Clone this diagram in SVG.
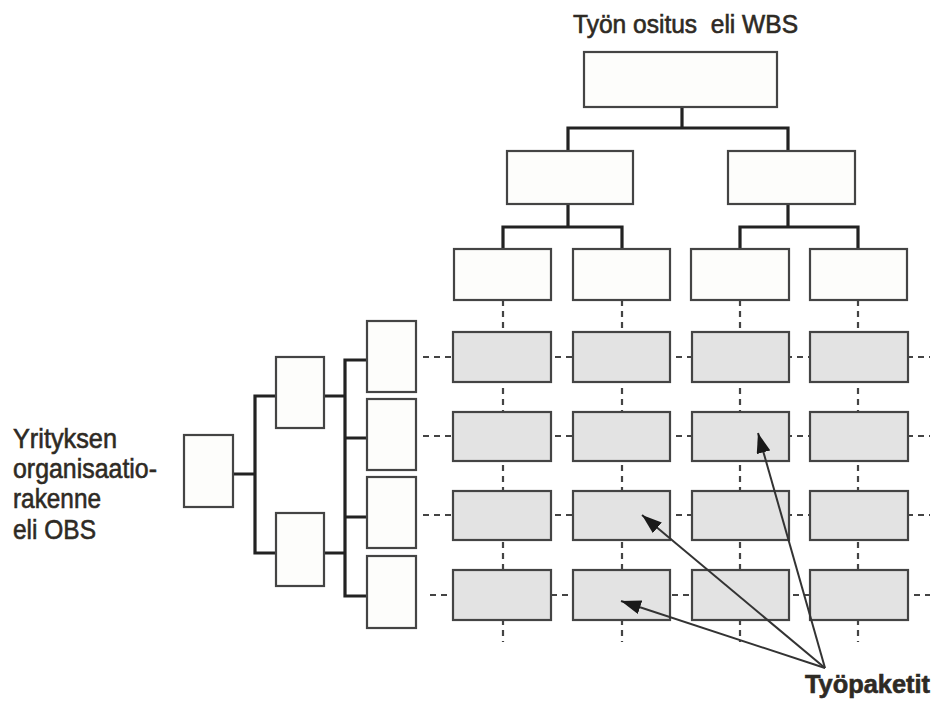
<svg xmlns="http://www.w3.org/2000/svg" width="933" height="704" viewBox="0 0 933 704">
<style>
.box{fill:#fdfdfb;stroke:#444;stroke-width:2.2}
.wp{fill:#e3e3e3;stroke:#444;stroke-width:2.2}
.tree{fill:none;stroke:#222;stroke-width:3.2}
.dash{fill:none;stroke:#444;stroke-width:2.2;stroke-dasharray:6 5}
.arr{fill:none;stroke:#333;stroke-width:2}
.lbl{font-family:"Liberation Sans",Arial,sans-serif;fill:#2e2a24;stroke:#2e2a24;stroke-width:0.6}
</style>
<defs>
<marker id="ah" viewBox="0 0 20 14" refX="20" refY="7" markerWidth="20" markerHeight="14" markerUnits="userSpaceOnUse" orient="auto">
<path d="M0,0 L20,7 L0,14 z" fill="#1a1a1a"/>
</marker>
</defs>
<rect width="933" height="704" fill="#fff"/>

<g id="grid-dashes">
<line class="dash" x1="503" y1="300" x2="503" y2="642"/>
<line class="dash" x1="622" y1="300" x2="622" y2="642"/>
<line class="dash" x1="740" y1="300" x2="740" y2="642"/>
<line class="dash" x1="858" y1="300" x2="858" y2="642"/>
<line class="dash" x1="423" y1="357" x2="930" y2="357"/>
<line class="dash" x1="423" y1="436" x2="930" y2="436"/>
<line class="dash" x1="423" y1="515" x2="930" y2="515"/>
<line class="dash" x1="430" y1="595" x2="930" y2="595"/>
</g>

<g id="connectors">
<path class="tree" d="M682,107 V128 M568,150 V128 H788 V150"/>
<path class="tree" d="M568,204 V227 M503,249 V227 H622 V249"/>
<path class="tree" d="M788,204 V227 M740,249 V227 H858 V249"/>
<path class="tree" d="M233,474 H255 M276,396 H255 V553 H276"/>
<path class="tree" d="M324,396 H345 M324,553 H345 M367,360 H345 V596 H367 M345,438 H367 M345,517 H367"/>
</g>

<g id="wbs-root"><rect class="box" x="584" y="52" width="193" height="55"/></g>
<g id="wbs-1"><rect class="box" x="507" y="151" width="126" height="53"/></g>
<g id="wbs-2"><rect class="box" x="728" y="151" width="127" height="53"/></g>
<g id="wbs-1-1"><rect class="box" x="454" y="249" width="97" height="51"/></g>
<g id="wbs-1-2"><rect class="box" x="573" y="249" width="97" height="51"/></g>
<g id="wbs-2-1"><rect class="box" x="691" y="249" width="98" height="51"/></g>
<g id="wbs-2-2"><rect class="box" x="810" y="249" width="97" height="51"/></g>

<g id="obs-root"><rect class="box" x="184" y="435" width="49" height="72"/></g>
<g id="obs-1"><rect class="box" x="276" y="357" width="48" height="71"/></g>
<g id="obs-2"><rect class="box" x="276" y="513" width="48" height="73"/></g>
<g id="obs-1-1"><rect class="box" x="367" y="321" width="49" height="71"/></g>
<g id="obs-1-2"><rect class="box" x="367" y="399" width="49" height="71"/></g>
<g id="obs-2-1"><rect class="box" x="367" y="477" width="49" height="71"/></g>
<g id="obs-2-2"><rect class="box" x="367" y="556" width="49" height="72"/></g>

<g id="work-packages">
<rect class="wp" x="453" y="332" width="98" height="50"/>
<rect class="wp" x="573" y="332" width="97" height="50"/>
<rect class="wp" x="692" y="332" width="97" height="50"/>
<rect class="wp" x="810" y="332" width="98" height="50"/>
<rect class="wp" x="453" y="412" width="98" height="49"/>
<rect class="wp" x="573" y="412" width="97" height="49"/>
<rect class="wp" x="692" y="412" width="97" height="49"/>
<rect class="wp" x="810" y="412" width="98" height="49"/>
<rect class="wp" x="453" y="491" width="98" height="49"/>
<rect class="wp" x="573" y="491" width="97" height="49"/>
<rect class="wp" x="692" y="491" width="97" height="49"/>
<rect class="wp" x="810" y="491" width="98" height="49"/>
<rect class="wp" x="453" y="570" width="98" height="50"/>
<rect class="wp" x="573" y="570" width="97" height="50"/>
<rect class="wp" x="692" y="570" width="97" height="50"/>
<rect class="wp" x="810" y="570" width="98" height="50"/>
</g>

<g id="arrows">
<line class="arr" x1="825" y1="668" x2="758" y2="433" marker-end="url(#ah)"/>
<line class="arr" x1="825" y1="668" x2="642" y2="515" marker-end="url(#ah)"/>
<line class="arr" x1="825" y1="668" x2="621" y2="601" marker-end="url(#ah)"/>
</g>

<g id="labels">
<text class="lbl" x="573" y="33" font-size="25" textLength="225" lengthAdjust="spacingAndGlyphs" xml:space="preserve">Työn ositus  eli WBS</text>
<text class="lbl" x="13" y="448" font-size="28" textLength="104" lengthAdjust="spacingAndGlyphs">Yrityksen</text>
<text class="lbl" x="13" y="478" font-size="28" textLength="144" lengthAdjust="spacingAndGlyphs">organisaatio-</text>
<text class="lbl" x="13" y="508" font-size="28" textLength="88" lengthAdjust="spacingAndGlyphs">rakenne</text>
<text class="lbl" x="13" y="539" font-size="28" textLength="83" lengthAdjust="spacingAndGlyphs">eli OBS</text>
<text class="lbl" x="805" y="693" font-size="25" font-weight="bold" textLength="125" lengthAdjust="spacingAndGlyphs">Työpaketit</text>
</g>
</svg>
